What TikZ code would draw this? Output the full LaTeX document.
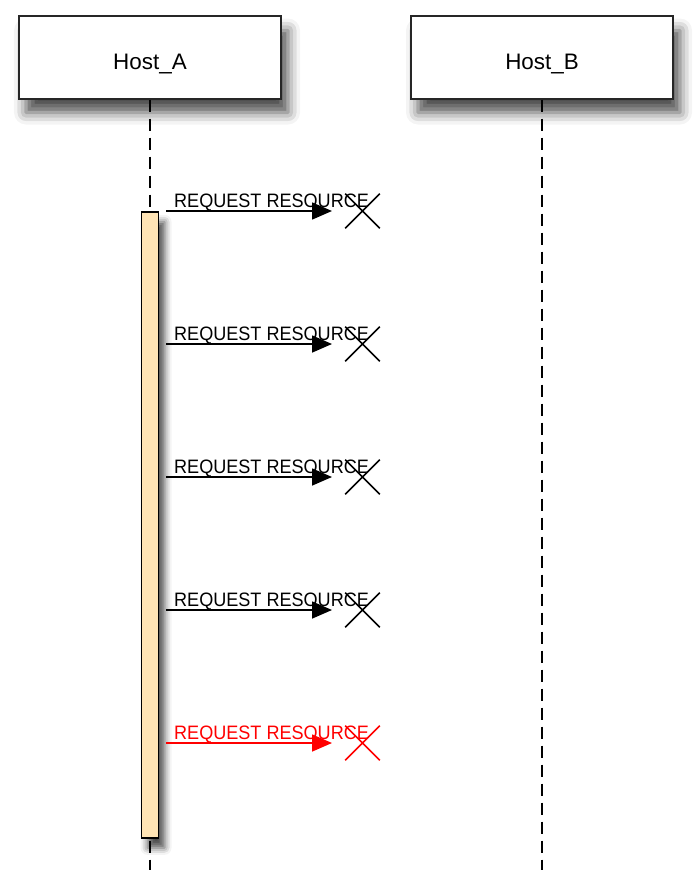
\documentclass[tikz,border=0pt]{standalone}
\usepackage{fontspec}
\setmainfont{Liberation Sans}
\newfontfamily\msgfont[FakeStretch=0.93]{Liberation Sans}
\usetikzlibrary{arrows.meta,shapes.misc,shadows.blur}

\begin{document}
\begin{tikzpicture}[x=1bp,y=-1bp,
    host/.style={draw=black!85,line width=2bp,fill=white,
      minimum width=262bp,minimum height=82bp,text height=24bp,text depth=0bp,
      font=\fontsize{22.5}{24}\selectfont,
      blur shadow={shadow xshift=7bp,shadow yshift=-14bp,shadow blur radius=12bp,
        shadow opacity=70}},
    lifeline/.style={line width=1.8bp,dash pattern=on 12bp off 7bp},
    actbar/.style={draw,line width=1.6bp,fill={rgb,255:red,255;green,228;blue,181},
      minimum width=17bp,minimum height=626bp,inner sep=0pt,
      blur shadow={shadow xshift=6bp,shadow yshift=-10bp,shadow blur radius=7bp,
        shadow opacity=70}},
    msg/.style={line width=1.6bp,-{Triangle[length=20bp,width=17bp]}},
    lost/.style={cross out,draw,line width=1.6bp,minimum size=33bp,inner sep=0pt}]
  \useasboundingbox (0,0) rectangle (700,878);

  \node [host] (hostA) at (150,57.5) {Host\_A};
  \node [host] (hostB) at (542,57.5) {Host\_B};

  \coordinate (endA) at (150,870);
  \coordinate (endB) at (542,870);
  \draw [lifeline] (hostA.south) -- (endA);
  \draw [lifeline] (hostB.south) -- (endB);

  \node [actbar,anchor=north] (bar) at (150,211) {};

  \foreach \y/\c [count=\i] in {211/black,344/black,477/black,610/black,743/red} {
    \coordinate (from\i) at (166,\y);
    \coordinate (to\i) at (332,\y);
    \node [lost,draw=\c] (lost\i) at (362.5,\y) {};
    \draw [msg,\c] (from\i) -- (to\i);
    \node [anchor=base west,inner sep=0pt,text=\c,
      font=\msgfont\fontsize{19.5}{20}\selectfont] (label\i) at (174,\y-4) {REQUEST RESOURCE};
  }
\end{tikzpicture}
\end{document}
